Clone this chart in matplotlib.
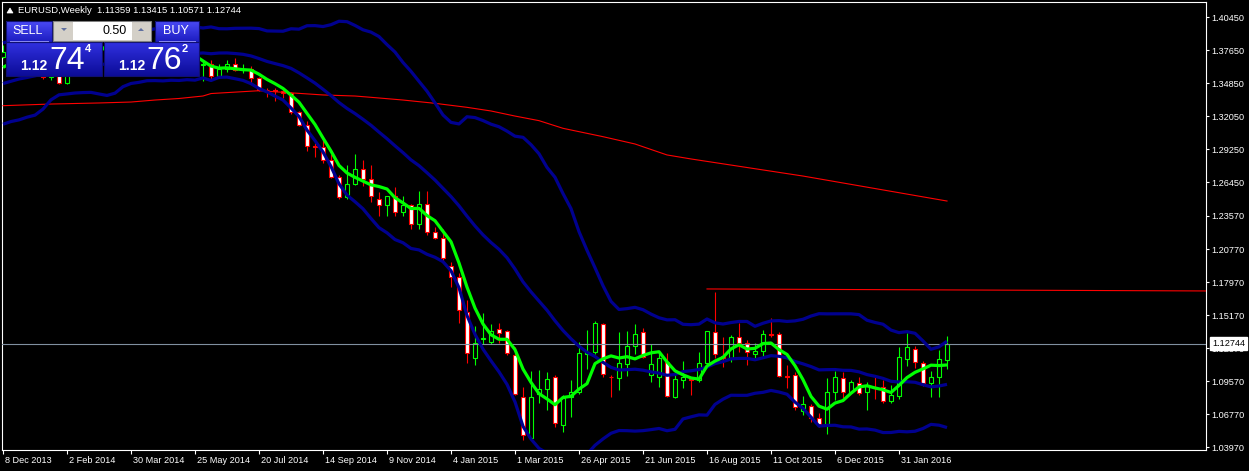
import numpy as np
import pandas as pd
import matplotlib
matplotlib.use("Agg")
import matplotlib.pyplot as plt
import matplotlib.transforms as mtransforms
from matplotlib.patches import Rectangle, Polygon

plt.rcParams['font.family'] = ['Liberation Sans', 'DejaVu Sans']

# ---------------- data (weekly bars, index 0 = week of 8 Dec 2013) ----------------
opens = [1.3705, 1.3745, 1.3675, 1.3720, 1.3590, 1.3665, 1.3540, 1.3675, 1.3487, 1.3630,
         1.3692, 1.3740, 1.3800, 1.3875, 1.3912, 1.3780, 1.3750, 1.3705, 1.3890, 1.3810,
         1.3830, 1.3870, 1.3760, 1.3695, 1.3630, 1.3635, 1.3643, 1.3543, 1.3605, 1.3645,
         1.3595, 1.3605, 1.3525, 1.3430, 1.3425, 1.3415, 1.3402, 1.3240, 1.3130, 1.2950,
         1.2945, 1.2830, 1.2685, 1.2520, 1.2630, 1.2760, 1.2670, 1.2500, 1.2450, 1.2525,
         1.2390, 1.2450, 1.2285, 1.2460, 1.2220, 1.2170, 1.1935, 1.1842, 1.1545, 1.1150,
         1.1315, 1.1290, 1.1395, 1.1385, 1.1180, 1.0825, 1.0470, 1.0845, 1.0887, 1.0995,
         1.0584, 1.0824, 1.0861, 1.1190, 1.1200, 1.1438, 1.0995, 1.0980, 1.1101, 1.1258,
         1.1370, 1.1008, 1.0988, 1.1120, 1.0824, 1.0966, 1.0970, 1.0966, 1.1107, 1.1370,
         1.1165, 1.1150, 1.1327, 1.1277, 1.1183, 1.1214, 1.1355, 1.1353, 1.1000, 1.1010,
         1.0700, 1.0745, 1.0640, 1.0590, 1.0866, 1.0980, 1.0866, 1.0943, 1.0866, 1.0905,
         1.0909, 1.0785, 1.0830, 1.1141, 1.1226, 1.1110, 1.0937, 1.0990, 1.11359]
highs = [1.3811, 1.3812, 1.3893, 1.3826, 1.3687, 1.3702, 1.3740, 1.3700, 1.3620, 1.3716,
         1.3774, 1.3825, 1.3915, 1.3967, 1.3950, 1.3877, 1.3810, 1.3905, 1.3905, 1.3872,
         1.3885, 1.3993, 1.3790, 1.3735, 1.3675, 1.3677, 1.3677, 1.3645, 1.3677, 1.3701,
         1.3650, 1.3629, 1.3535, 1.3445, 1.3445, 1.3445, 1.3410, 1.3250, 1.3160, 1.2975,
         1.3000, 1.2880, 1.2705, 1.2790, 1.2887, 1.2835, 1.2790, 1.2560, 1.2500, 1.2600,
         1.2530, 1.2455, 1.2570, 1.2570, 1.2260, 1.2250, 1.1970, 1.1870, 1.1645, 1.1425,
         1.1534, 1.1443, 1.1450, 1.1390, 1.1245, 1.0910, 1.1044, 1.1052, 1.1030, 1.1010,
         1.0838, 1.0966, 1.1285, 1.1390, 1.1467, 1.1447, 1.1010, 1.1375, 1.1381, 1.1438,
         1.1404, 1.1268, 1.1197, 1.1197, 1.1036, 1.1127, 1.0980, 1.1206, 1.1385, 1.1714,
         1.1333, 1.1347, 1.1452, 1.1305, 1.1282, 1.1390, 1.1489, 1.1375, 1.1093, 1.1036,
         1.0830, 1.0765, 1.0683, 1.0980, 1.1042, 1.1036, 1.0966, 1.0988, 1.0950, 1.0988,
         1.0966, 1.0920, 1.1248, 1.1367, 1.1250, 1.1130, 1.1042, 1.1220, 1.13415]
lows = [1.3695, 1.3625, 1.3655, 1.3589, 1.3573, 1.3520, 1.3509, 1.3480, 1.3477, 1.3574,
        1.3684, 1.3642, 1.3735, 1.3852, 1.3750, 1.3705, 1.3673, 1.3705, 1.3787, 1.3782,
        1.3773, 1.3775, 1.3648, 1.3615, 1.3587, 1.3503, 1.3523, 1.3525, 1.3575, 1.3587,
        1.3570, 1.3475, 1.3420, 1.3367, 1.3333, 1.3355, 1.3225, 1.3120, 1.2910, 1.2860,
        1.2810, 1.2680, 1.2500, 1.2505, 1.2620, 1.2615, 1.2480, 1.2357, 1.2360, 1.2360,
        1.2360, 1.2245, 1.2250, 1.2200, 1.2165, 1.1960, 1.1755, 1.1452, 1.1107, 1.1095,
        1.1270, 1.1270, 1.1280, 1.1175, 1.0840, 1.0456, 1.0462, 1.0768, 1.0711, 1.0563,
        1.0527, 1.0654, 1.0845, 1.1060, 1.1183, 1.0993, 1.0824, 1.0881, 1.1000, 1.1183,
        1.1150, 1.0951, 1.0909, 1.0820, 1.0810, 1.0895, 1.0838, 1.0951, 1.1093, 1.1150,
        1.1078, 1.1121, 1.1206, 1.1093, 1.1150, 1.1150, 1.1333, 1.0993, 1.0895, 1.0711,
        1.0669, 1.0612, 1.0569, 1.0510, 1.0796, 1.0810, 1.0853, 1.0838, 1.0710, 1.0802,
        1.0773, 1.0770, 1.0802, 1.1084, 1.1065, 1.0915, 1.0824, 1.0819, 1.10571]
closes = [1.3745, 1.3675, 1.3720, 1.3590, 1.3665, 1.3540, 1.3675, 1.3487, 1.3630, 1.3692,
          1.3740, 1.3800, 1.3875, 1.3912, 1.3780, 1.3750, 1.3705, 1.3890, 1.3810, 1.3830,
          1.3870, 1.3760, 1.3695, 1.3630, 1.3635, 1.3643, 1.3543, 1.3605, 1.3645, 1.3595,
          1.3605, 1.3525, 1.3430, 1.3425, 1.3415, 1.3402, 1.3240, 1.3130, 1.2950, 1.2945,
          1.2830, 1.2685, 1.2520, 1.2630, 1.2760, 1.2670, 1.2525, 1.2450, 1.2525, 1.2390,
          1.2450, 1.2285, 1.2460, 1.2220, 1.2170, 1.2000, 1.1842, 1.1560, 1.1197, 1.1280,
          1.1325, 1.1385, 1.1368, 1.1195, 1.0845, 1.0500, 1.0820, 1.0890, 1.0970, 1.0598,
          1.0810, 1.0867, 1.1197, 1.1200, 1.1447, 1.1016, 1.0990, 1.1107, 1.1257, 1.1353,
          1.1163, 1.1099, 1.1155, 1.0826, 1.0974, 1.0993, 1.0966, 1.1107, 1.1381, 1.1183,
          1.1150, 1.1327, 1.1282, 1.1200, 1.1212, 1.1353, 1.1350, 1.1002, 1.0995, 1.0734,
          1.0760, 1.0640, 1.0590, 1.0866, 1.0993, 1.0866, 1.0951, 1.0858, 1.0915, 1.0900,
          1.0790, 1.0835, 1.1158, 1.1248, 1.1121, 1.0937, 1.0993, 1.1141, 1.12744]
# closes of the 20 weeks before the first visible bar (needed by the indicators)
prior_closes = [1.3279, 1.3280, 1.3343, 1.3331, 1.3378, 1.3220, 1.3180, 1.3298, 1.3525, 1.3524,
                1.3555, 1.3548, 1.3685, 1.3803, 1.3487, 1.3365, 1.3495, 1.3555, 1.3590, 1.3705]

# long moving average (red): bar index -> value
sma200_idx = [0, 6, 12, 16, 19, 22, 25, 26, 32, 40, 44, 46, 50, 54, 58, 61, 64, 67, 70, 75,
              79, 83, 86, 100, 118]
sma200_val = [1.3293, 1.3307, 1.3316, 1.3324, 1.3341, 1.3354, 1.3375, 1.3396, 1.3420, 1.3384,
              1.3375, 1.3364, 1.3341, 1.3313, 1.3279, 1.3248, 1.3205, 1.3166, 1.3101, 1.3030,
              1.2968, 1.2875, 1.2841, 1.2696, 1.2484]

# red trend line
trend_idx = [88, 150.4]
trend_val = [1.1738, 1.1721]

current_price = 1.12744
title = "EURUSD,Weekly  1.11359 1.13415 1.10571 1.12744"

date_tick_idx = [0, 8, 16, 24, 32, 40, 48, 56, 64, 72, 80, 88, 96, 104, 112]
date_labels = ["8 Dec 2013", "2 Feb 2014", "30 Mar 2014", "25 May 2014", "20 Jul 2014",
               "14 Sep 2014", "9 Nov 2014", "4 Jan 2015", "1 Mar 2015", "26 Apr 2015",
               "21 Jun 2015", "16 Aug 2015", "11 Oct 2015", "6 Dec 2015", "31 Jan 2016"]
price_ticks = [1.40450, 1.37650, 1.34850, 1.32050, 1.29250, 1.26450, 1.23570, 1.20770,
               1.17970, 1.15170, 1.12370, 1.09570, 1.06770, 1.03970]

# ---------------- figure ----------------
W, H = 1249, 471
fig = plt.figure(figsize=(W / 100, H / 100), dpi=100, facecolor='black')
ax = fig.add_axes([2 / W, 21 / H, 1204 / W, 448 / H])
ax.set_facecolor('black')
for s in ax.spines.values():
    s.set_color('white')
    s.set_linewidth(0.8)

o = np.array(opens); h = np.array(highs); l = np.array(lows); c = np.array(closes)
idx = np.arange(len(c))
up = c > o
dn = ~up

ax.vlines(idx[up], l[up], h[up], color='#00ff00', lw=0.8, zorder=2)
ax.vlines(idx[dn], l[dn], h[dn], color='#ff0000', lw=0.8, zorder=2)
lo_body = np.minimum(o, c)
hb = np.abs(c - o)
ax.bar(idx[up], hb[up], bottom=lo_body[up], width=0.5, color='black',
       edgecolor='#00ff00', lw=0.8, zorder=3)
ax.bar(idx[dn], hb[dn], bottom=lo_body[dn], width=0.5, color='white',
       edgecolor='#ff0000', lw=0.8, zorder=3)

# indicators
allc = pd.Series(prior_closes + closes)
n0 = len(prior_closes)
sma5 = allc.rolling(5).mean().iloc[n0:].to_numpy()
mid = allc.rolling(20).mean().iloc[n0:].to_numpy()
sd = allc.rolling(20).std(ddof=0).iloc[n0:].to_numpy()
navy = '#00008f'
ax.plot(sma200_idx, sma200_val, color='#ff0000', lw=0.8, zorder=4)
ax.plot(trend_idx, trend_val, color='#ff0000', lw=0.8, zorder=4)
for band in (mid + 2 * sd, mid, mid - 2 * sd):
    ax.plot(idx, band, color=navy, lw=2.3, zorder=5, solid_capstyle='butt')
ax.plot(idx, sma5, color='#00ff00', lw=2.3, zorder=6, solid_capstyle='butt')

ax.axhline(current_price, color='#8090a0', lw=0.8, zorder=4)

ax.set_xlim(-0.125, 150.375)
ax.set_ylim(1.03716, 1.41727)

ax.yaxis.tick_right()
ax.set_yticks(price_ticks, [f"{v:.5f}" for v in price_ticks])
ax.tick_params(axis='y', colors='white', length=2.2, width=0.8, pad=2.0, labelsize=6.6)
ax.set_xticks(date_tick_idx, date_labels)
ax.tick_params(axis='x', colors='white', length=2.9, width=0.8, pad=1.2, labelsize=6.6)
off = mtransforms.ScaledTranslation(2 / 100, 0, fig.dpi_scale_trans)
for lbl in ax.get_xticklabels():
    lbl.set_horizontalalignment('left')
    lbl.set_transform(lbl.get_transform() + off)

trans = mtransforms.blended_transform_factory(ax.transAxes, ax.transData)
ax.text(1.0 + 6 / 1204, current_price, f"{current_price:.5f}", transform=trans,
        ha='left', va='center', fontsize=6.6, color='black', zorder=20, clip_on=False,
        bbox=dict(boxstyle='square,pad=0.25', fc='white', ec='white'))

# ---------------- overlay: title + trade panel ----------------
ov = fig.add_axes([0, 0, 1, 1], zorder=10)
ov.set_xlim(0, W); ov.set_ylim(H, 0); ov.axis('off')
ov.patch.set_alpha(0)

ov.add_patch(Polygon([[7, 13], [13, 13], [10, 8]], closed=True, fc='white', ec='white', lw=0.5))
ov.text(18, 10.5, title, color='white', fontsize=6.8, va='center', ha='left')


def grad_box(x0, y0, x1, y1, top, bot):
    t = np.array(matplotlib.colors.to_rgb(top))
    b = np.array(matplotlib.colors.to_rgb(bot))
    f = np.linspace(0, 1, 64)[:, None]
    arr = (t * (1 - f) + b * f)[:, None, :]
    ov.imshow(arr, extent=(x0, x1, y1, y0), origin='upper', aspect='auto',
              interpolation='bilinear', zorder=1)
    ov.add_patch(Rectangle((x0, y0), x1 - x0, y1 - y0, fill=False, ec='#101070', lw=0.8, zorder=2))


grad_box(6, 21, 52, 42, '#4a4af5', '#1c1cc0')
grad_box(155, 21, 199, 42, '#4a4af5', '#1c1cc0')
grad_box(6, 42, 102, 76, '#3030e0', '#0c0c98')
grad_box(104, 42, 199, 76, '#3030e0', '#0c0c98')
ov.plot([10, 48], [41, 41], color='#8a8af0', lw=0.7, zorder=3)
ov.plot([159, 195], [41, 41], color='#8a8af0', lw=0.7, zorder=3)

# spinner
ov.add_patch(Rectangle((53, 21), 98, 20, fc='#d4d0c8', ec='#808080', lw=0.8, zorder=2))
ov.add_patch(Rectangle((73, 22), 59, 18, fc='white', ec='none', zorder=3))
ov.add_patch(Polygon([[61, 28], [67, 28], [64, 31]], closed=True, fc='#6070a0', ec='none', zorder=3))
ov.add_patch(Polygon([[138, 31], [144, 31], [141, 28]], closed=True, fc='#6070a0', ec='none', zorder=3))
ov.text(127, 31, "0.50", color='black', fontsize=9, ha='right', va='center', zorder=4)

ov.text(28, 31, "SELL", color='white', fontsize=9, ha='center', va='center', zorder=4)
ov.text(176, 31, "BUY", color='white', fontsize=9, ha='center', va='center', zorder=4)

ov.text(20, 70, "1.12", color='white', fontsize=10, fontweight='bold', ha='left', va='baseline', zorder=4)
ov.text(49, 69, "74", color='white', fontsize=23, ha='left', va='baseline', zorder=4)
ov.text(85, 44, "4", color='white', fontsize=8, fontweight='bold', ha='left', va='top', zorder=4)
ov.text(118, 70, "1.12", color='white', fontsize=10, fontweight='bold', ha='left', va='baseline', zorder=4)
ov.text(146, 69, "76", color='white', fontsize=23, ha='left', va='baseline', zorder=4)
ov.text(182, 44, "2", color='white', fontsize=8, fontweight='bold', ha='left', va='top', zorder=4)

fig.savefig("out.png", dpi=100, facecolor='black')
